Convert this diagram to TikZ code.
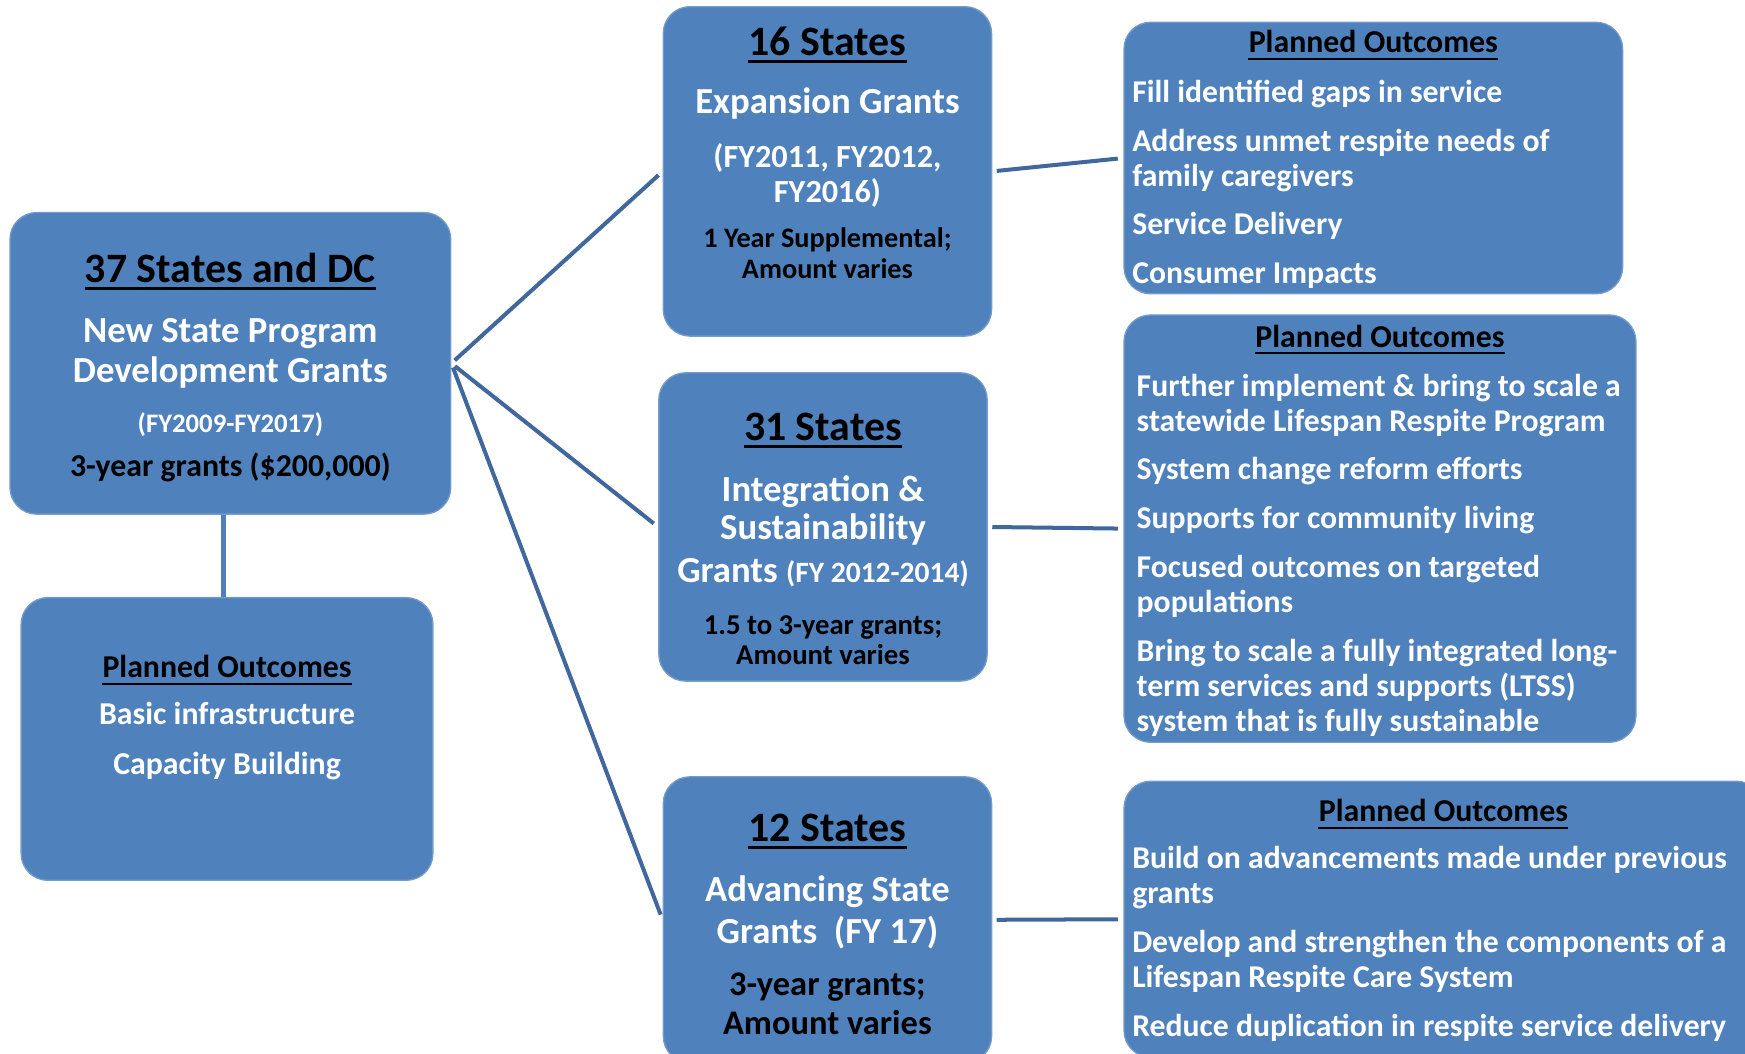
\documentclass[tikz,border=0pt]{standalone}
\usepackage{fontspec}
\setmainfont{Carlito}
\usepackage{tikz}

\definecolor{boxblue}{HTML}{4F81BD}
\definecolor{linkblue}{HTML}{41689D}
\definecolor{stemblue}{HTML}{4F7FBA}

\begin{document}
\begin{tikzpicture}[x=0.5pt, y=-0.5pt,
  box/.style = {draw=boxblue!80!white, line width=0.6pt, fill=boxblue, rounded corners=12pt, inner sep=0pt},
  link/.style = {draw=linkblue, line width=1.8pt, shorten <=2pt, shorten >=2.5pt},
  stem/.style = {draw=stemblue, line width=2.5pt},
  title/.style = {font=\fontsize{18.8}{22}\selectfont\bfseries, text=black, inner sep=0pt, anchor=base, yshift=-1pt},
  sub/.style = {font=\fontsize{16.5}{18}\selectfont\bfseries, text=white, inner sep=0pt, anchor=base, align=center, yshift=-1pt},
  head/.style = {font=\fontsize{14.3}{16}\selectfont\bfseries, text=black, inner sep=0pt, anchor=base, yshift=-1pt},
  list/.style = {font=\fontsize{14.25}{15.75}\selectfont\bfseries, text=white, inner sep=0pt, anchor=base west, align=left, yshift=-1pt}]

\useasboundingbox (0,0) rectangle (1568,947);
\clip (0,0) rectangle (1568,947);

%% boxes
\node[box, minimum width=198pt, minimum height=135.5pt] (A) at (207, 326.5) {};
\node[box, minimum width=185pt, minimum height=127pt] (low) at (204, 664) {};
\node[box, minimum width=147.5pt, minimum height=148pt] (B) at (743.5, 154) {};
\node[box, minimum width=147.5pt, minimum height=138.5pt] (C) at (739.5, 473.5) {};
\node[box, minimum width=147.5pt, minimum height=128.5pt] (D) at (743.5, 826.5) {};
\node[box, minimum width=224pt, minimum height=122pt] (oB) at (1234, 142) {};
\node[box, minimum width=230pt, minimum height=192pt] (oC) at (1240, 475) {};
\node[box, minimum width=287pt, minimum height=124pt] (oD) at (1297, 826) {};

%% left column (multi-line nodes sit on their last baseline)
\node[title] (tA) at (207, 252) {37 States and DC};
\node[sub] (sA) at (207, 342) {New State Program\\Development Grants};
\node[sub, font=\fontsize{12}{14}\selectfont\bfseries] (yA) at (207, 387) {(FY2009-FY2017)};
\node[sub, font=\fontsize{14.3}{16}\selectfont\bfseries, text=black] (mA) at (207, 426) {3-year grants (\$200,000)};

\node[head] (pL) at (204, 607) {Planned Outcomes};
\node[sub, font=\fontsize{14.3}{22.5}\selectfont\bfseries] (iL) at (204, 694) {Basic infrastructure\\Capacity Building};

%% middle column
\node[title] (tB) at (743.5, 48) {16 States};
\node[sub] (sB) at (743.5, 100) {Expansion Grants};
\node[sub, font=\fontsize{14.5}{15.4}\selectfont\bfseries] (yB) at (743.5, 179.6) {(FY2011, FY2012,\\FY2016)};
\node[sub, font=\fontsize{12.7}{14}\selectfont\bfseries, text=black] (mB) at (743.5, 248) {1 Year Supplemental;\\Amount varies};

\node[title] (tC) at (739.5, 394) {31 States};
\node[sub, font=\fontsize{16.5}{17}\selectfont\bfseries] (sC) at (739.5, 521.4) {Integration \&\\Sustainability\\[2.5pt]Grants {\fontsize{13.25}{17}\selectfont(FY 2012-2014)}};
\node[sub, font=\fontsize{12.9}{13.5}\selectfont\bfseries, text=black] (mC) at (739.5, 595) {1.5 to 3-year grants;\\Amount varies};

\node[title] (tD) at (743.5, 754) {12 States};
\node[sub, font=\fontsize{16.5}{19}\selectfont\bfseries] (sD) at (743.5, 845.6) {Advancing State\\Grants~~(FY 17)};
\node[sub, font=\fontsize{15.5}{17.7}\selectfont\bfseries, text=black] (mD) at (743.5, 928) {3-year grants;\\Amount varies};

%% right column
\node[head] (pB) at (1234, 45.5) {Planned Outcomes};
\node[list] (lB) at (1017, 253) {Fill identified gaps in service\\[6.2pt]Address unmet respite needs of\\family caregivers\\[6.2pt]Service Delivery\\[6.2pt]Consumer Impacts};

\node[head] (pC) at (1240, 310) {Planned Outcomes};
\node[list] (lC) at (1021, 655.5) {Further implement \& bring to scale a\\statewide Lifespan Respite Program\\[6.2pt]System change reform efforts\\[6.2pt]Supports for community living\\[6.2pt]Focused outcomes on targeted\\populations\\[6.2pt]Bring to scale a fully integrated long-\\term services and supports (LTSS)\\system that is fully sustainable};

\node[head] (pD) at (1297, 736.5) {Planned Outcomes};
\node[list] (lD) at (1017, 929.4) {Build on advancements made under previous\\grants\\[6.2pt]Develop and strengthen the components of a\\Lifespan Respite Care System\\[6.2pt]Reduce duplication in respite service delivery};

%% underlines
\foreach \n in {tA, tB, tC, tD}
  \draw[line width=1.2pt] ([yshift=-2.7pt]\n.base west) -- ([yshift=-2.7pt]\n.base east);
\foreach \n in {pL, pB, pC, pD}
  \draw[line width=0.9pt] ([yshift=-2.6pt]\n.base west) -- ([yshift=-2.6pt]\n.base east);

%% connectors
\draw[link] (A.east) -- (B.west);
\draw[link] (A.east) -- (C.west);
\draw[link] (A.east) -- (D.west);
\draw[link] (B.east) -- (oB.west);
\draw[link] (C.east) -- (oC.west);
\draw[link] (D.east) -- (oD.west);
\coordinate (st) at ([xshift=-1.5pt]low.north);
\draw[stem] (st |- A.south) -- (st);

\end{tikzpicture}
\end{document}
